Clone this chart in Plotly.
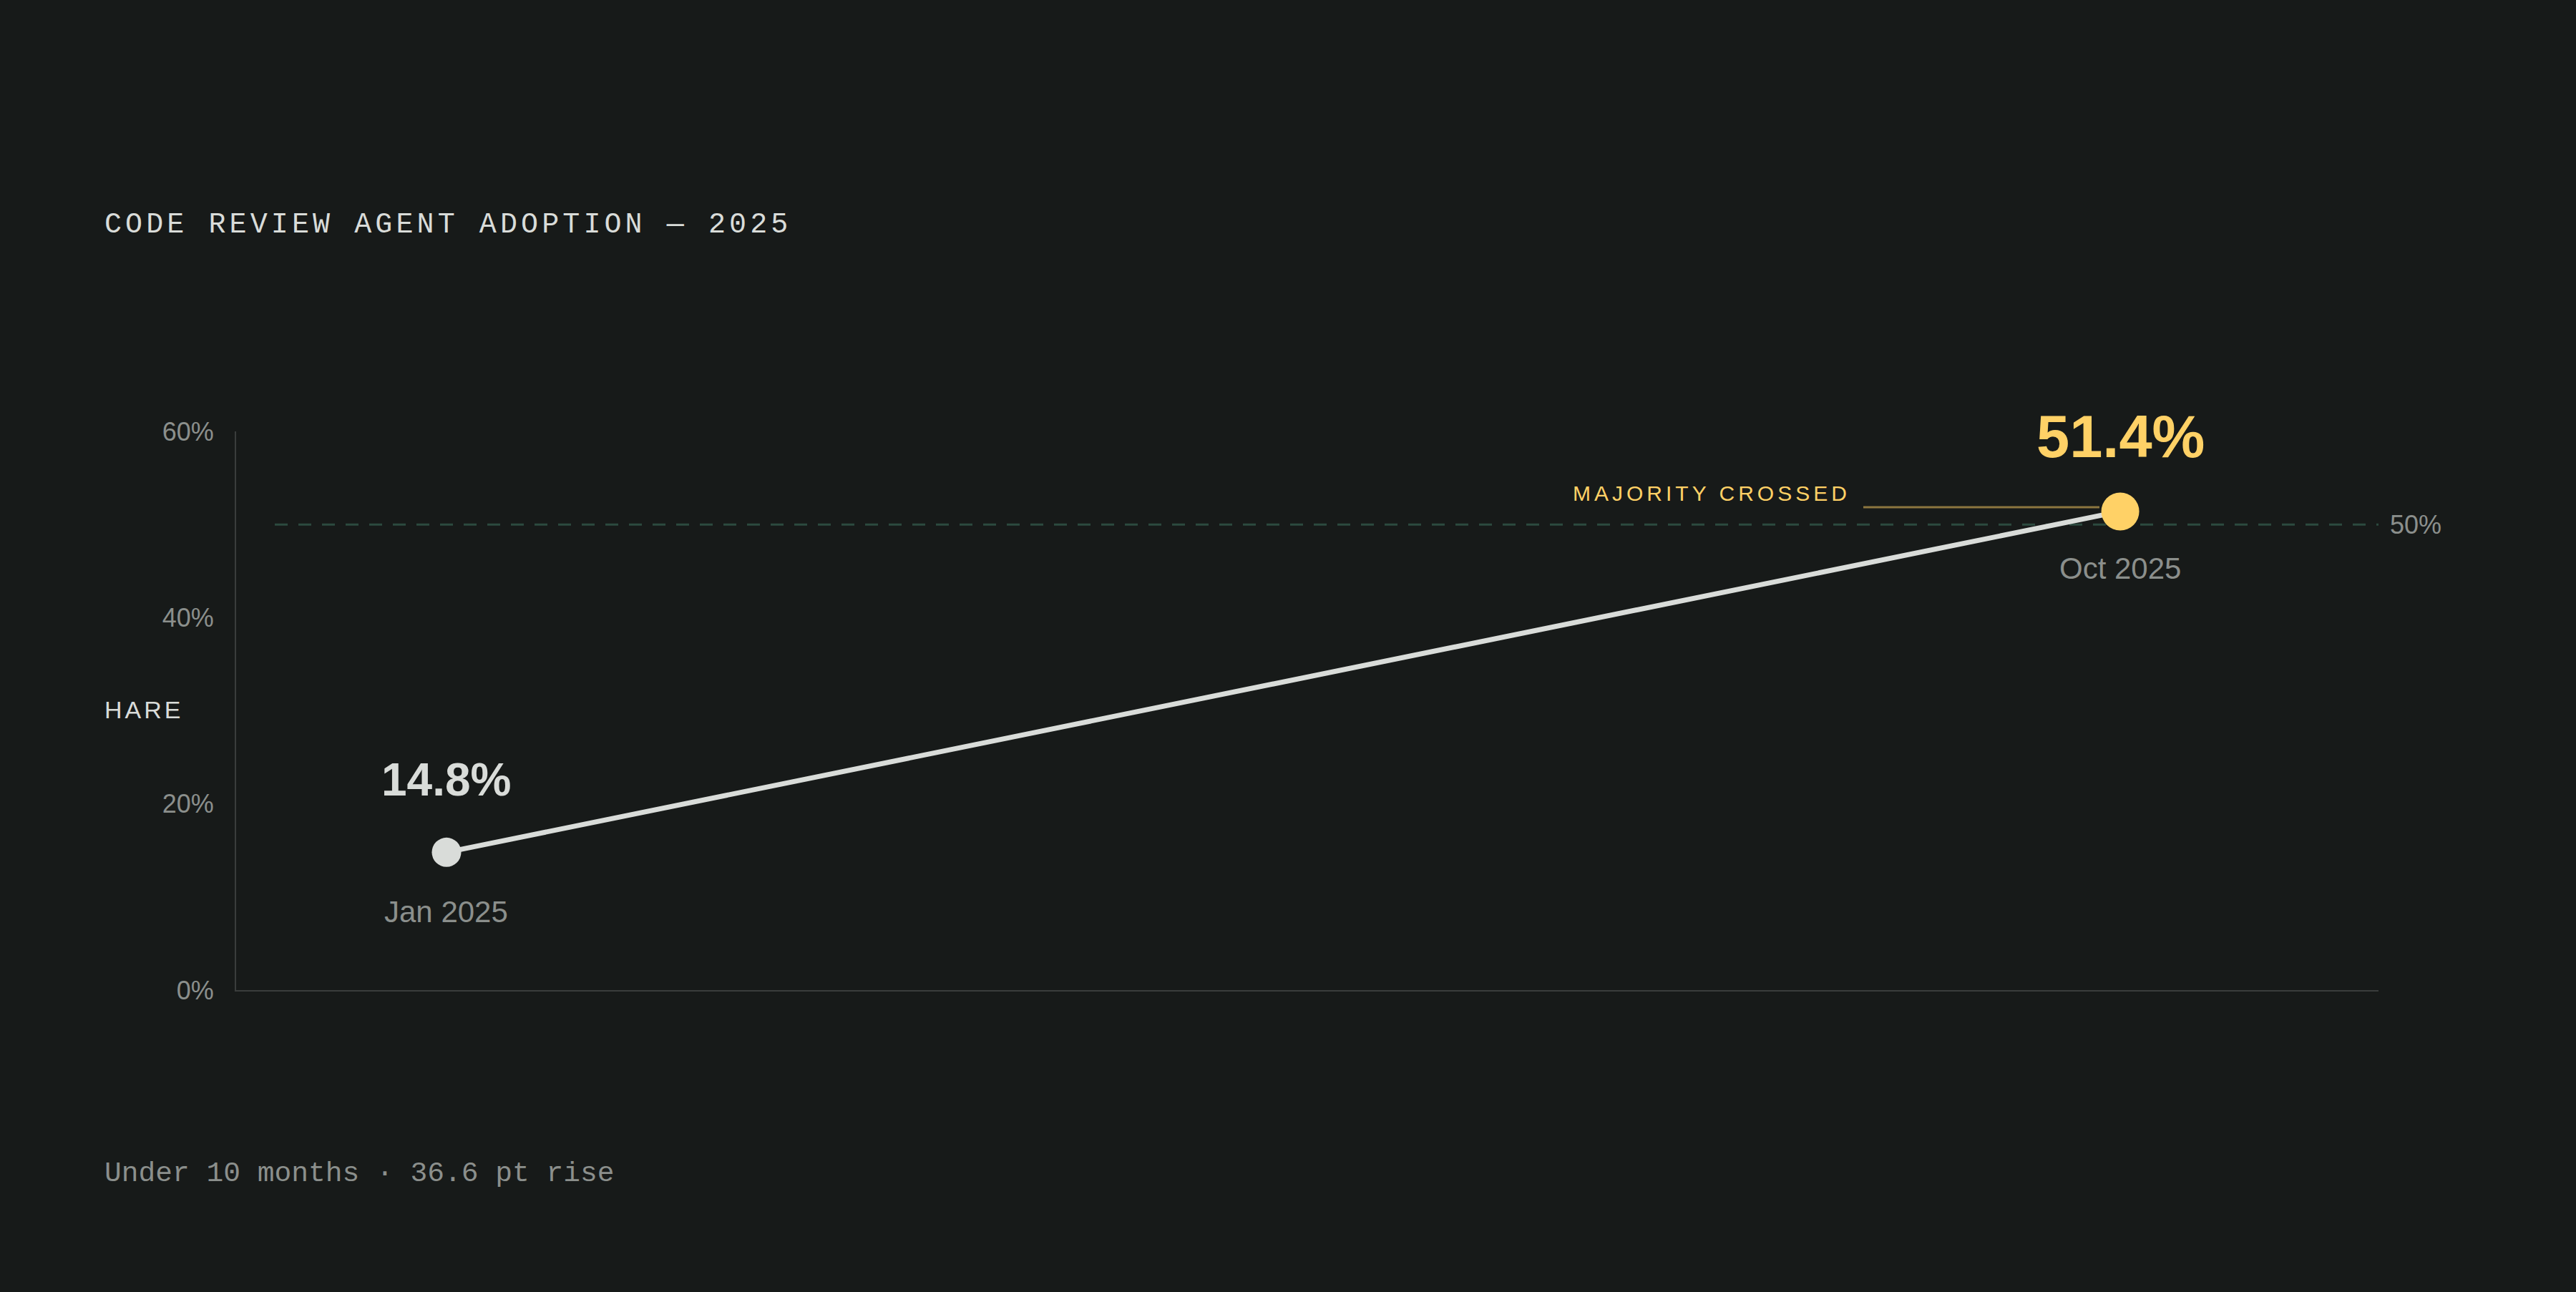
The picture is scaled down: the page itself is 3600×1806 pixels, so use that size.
import plotly.graph_objects as go

# data
months = ["2025-01-01", "2025-10-01"]
month_labels = ["Jan 2025", "Oct 2025"]
share = [14.8, 51.4]
threshold = 50
y_ticks = [0, 20, 40, 60]
y_tick_text = ["0%", "20%", "40%", "60%"]

BG = "#171a19"
LIGHT = "#d9dcd9"
GRAY = "#8b8f8c"
YELLOW = "#ffd166"
SANS = "Liberation Sans, Arial, sans-serif"
MONO = "Liberation Mono, monospace"

W, H = 3600, 1806
L, R, T, B = 330, 276, 603, 422


def px(x):
    return (x - L) / (W - L - R)


def py(y):
    return (H - B - y) / (H - T - B)


fig = go.Figure()

fig.add_trace(go.Scatter(
    x=months, y=share, mode="lines",
    line=dict(color=LIGHT, width=7),
    hoverinfo="skip", showlegend=False,
))
fig.add_trace(go.Scatter(
    x=months, y=share, mode="markers",
    marker=dict(color=[LIGHT, YELLOW], size=[41, 53], opacity=1, line=dict(width=0)),
    hoverinfo="skip", showlegend=False,
))

# 50% reference line
fig.add_shape(type="line", xref="paper", yref="y", x0=px(384), x1=1,
              y0=threshold, y1=threshold,
              line=dict(color="#2c4a3f", width=3, dash="18px,15px"), layer="below")
fig.add_annotation(xref="paper", yref="y", x=px(3338), y=threshold,
                   text="%d%%" % threshold, showarrow=False,
                   xanchor="left", yanchor="middle",
                   font=dict(family=SANS, size=36, color=GRAY))

# majority crossed callout
fig.add_shape(type="line", xref="paper", yref="paper", x0=px(2604), x1=px(2934),
              y0=py(709), y1=py(709),
              line=dict(color="rgba(255,209,102,0.5)", width=3))
fig.add_annotation(xref="paper", yref="paper", x=px(2588), y=py(689),
                   text='<span style="letter-spacing:5px">MAJORITY CROSSED</span>',
                   showarrow=False, xanchor="right", yanchor="middle",
                   font=dict(family=SANS, size=30, color=YELLOW))

# point labels
value_fonts = [dict(family=SANS, size=64, color=LIGHT, weight="bold"),
               dict(family=SANS, size=83, color=YELLOW, weight="bold")]
value_shift = [101, 104]
label_shift = [-83, -80]
for i in range(len(months)):
    fig.add_annotation(x=months[i], y=share[i], text="%.1f%%" % share[i],
                       showarrow=False, xanchor="center", yanchor="middle",
                       yshift=value_shift[i], font=value_fonts[i])
    fig.add_annotation(x=months[i], y=share[i], text=month_labels[i],
                       showarrow=False, xanchor="center", yanchor="middle",
                       yshift=label_shift[i],
                       font=dict(family=SANS, size=42, color=GRAY))

# title, axis label, footer
fig.add_annotation(xref="paper", yref="paper", x=px(144), y=py(314),
                   text='<span style="letter-spacing:5.1px">CODE REVIEW AGENT ADOPTION — 2025</span>',
                   showarrow=False, xanchor="left", yanchor="middle",
                   font=dict(family=MONO, size=40, color=LIGHT))
fig.add_annotation(xref="paper", yref="paper", x=px(144), y=py(992),
                   text='<span style="letter-spacing:4px">HARE</span>',
                   showarrow=False, xanchor="left", yanchor="middle",
                   font=dict(family=SANS, size=34, color=LIGHT))
fig.add_annotation(xref="paper", yref="paper", x=px(144), y=py(1640),
                   text="Under 10 months · 36.6 pt rise",
                   showarrow=False, xanchor="left", yanchor="middle",
                   font=dict(family=MONO, size=39.6, color=GRAY))

fig.update_xaxes(range=["2024-11-27 16:30", "2025-11-12 03:00"],
                 showline=True, linecolor="#3a3d3c", linewidth=2,
                 showgrid=False, zeroline=False, showticklabels=False, ticks="")
fig.update_yaxes(range=[0, 60], tickvals=y_ticks, ticktext=y_tick_text,
                 showline=True, linecolor="#3a3d3c", linewidth=2,
                 showgrid=False, zeroline=False, ticks="", ticklabelstandoff=22,
                 tickfont=dict(family=SANS, size=36, color=GRAY))

fig.update_layout(width=W, height=H, margin=dict(l=L, r=R, t=T, b=B),
                  paper_bgcolor=BG, plot_bgcolor=BG, showlegend=False)

fig.write_html("out.html", config={"displayModeBar": False},
               post_script="document.body.style.margin='0';"
                           "document.body.style.background='%s';" % BG)
